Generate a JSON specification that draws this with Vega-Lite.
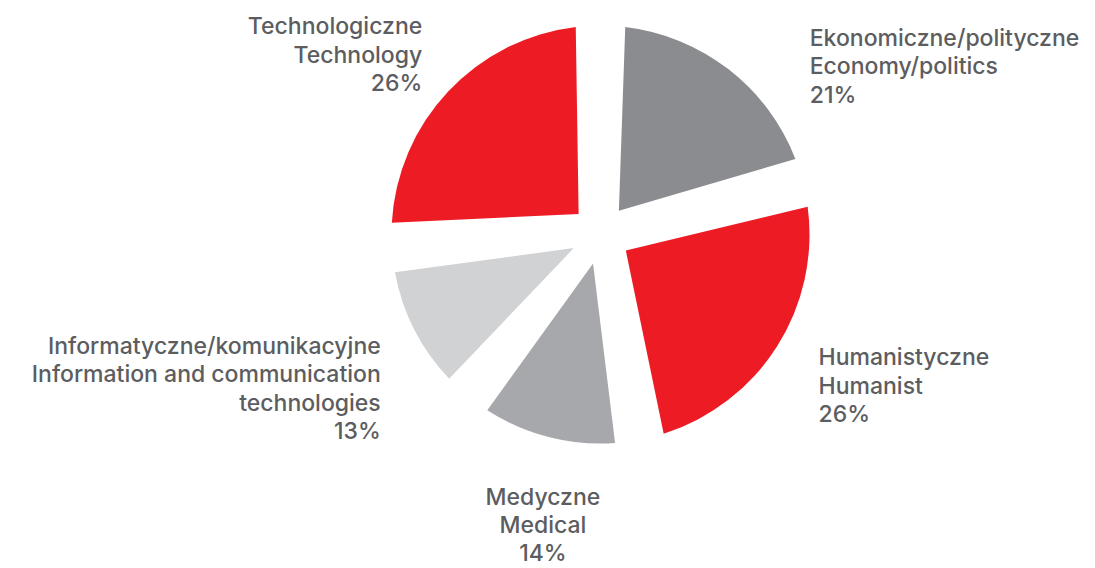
{
  "$schema": "https://vega.github.io/schema/vega-lite/v6.json",
  "width": 989,
  "height": 469,
  "autosize": "none",
  "padding": {"left": 106, "top": 0, "right": 0, "bottom": 99},
  "background": "white",
  "config": {"view": {"stroke": null}},
  "data": {
    "values": [
      {"i": 1, "key": "Ekonomiczne", "value": 21, "label": "Ekonomiczne/polityczne\nEconomy/politics\n21%"},
      {"i": 2, "key": "Humanistyczne", "value": 26, "label": "Humanistyczne\nHumanist\n26%"},
      {"i": 3, "key": "Medyczne", "value": 14, "label": "Medyczne\nMedical\n14%"},
      {"i": 4, "key": "Informatyczne", "value": 13, "label": "Informatyczne/komunikacyjne\nInformation and communication\ntechnologies\n13%"},
      {"i": 5, "key": "Technologiczne", "value": 26, "label": "Technologiczne\nTechnology\n26%"}
    ]
  },
  "encoding": {
    "theta": {"field": "value", "type": "quantitative", "stack": true},
    "order": {"field": "i", "type": "quantitative"}
  },
  "layer": [
    {
      "mark": {"type": "arc", "outerRadius": 209, "innerRadius": 30, "padAngle": 0.235},
      "encoding": {
        "color": {
          "field": "key",
          "type": "nominal",
          "scale": {
            "domain": ["Ekonomiczne", "Humanistyczne", "Medyczne", "Informatyczne", "Technologiczne"],
            "range": ["#8b8c90", "#ed1c24", "#a7a8ab", "#d1d2d4", "#ed1c24"]
          },
          "legend": null
        }
      }
    },
    {
      "mark": {"type": "text", "radius": 250, "dx": 56, "dy": 2, "align": "left", "baseline": "middle", "lineBreak": "\n", "fontSize": 23, "font": "Inter", "fontWeight": 500, "lineHeight": 28.5, "color": "#5c5d60"},
      "encoding": {
        "detail": {"field": "key", "type": "nominal"},
        "text": {"condition": {"test": "datum.key === 'Ekonomiczne'", "field": "label", "type": "nominal"}, "value": ""}
      }
    },
    {
      "mark": {"type": "text", "radius": 250, "dx": 7, "dy": -10, "align": "left", "baseline": "middle", "lineBreak": "\n", "fontSize": 23, "font": "Inter", "fontWeight": 500, "lineHeight": 28.5, "color": "#5c5d60"},
      "encoding": {
        "detail": {"field": "key", "type": "nominal"},
        "text": {"condition": {"test": "datum.key === 'Humanistyczne'", "field": "label", "type": "nominal"}, "value": ""}
      }
    },
    {
      "mark": {"type": "text", "radius": 300, "dx": 17, "dy": -27, "align": "center", "baseline": "middle", "lineBreak": "\n", "fontSize": 23, "font": "Inter", "fontWeight": 500, "lineHeight": 28, "color": "#5c5d60"},
      "encoding": {
        "detail": {"field": "key", "type": "nominal"},
        "text": {"condition": {"test": "datum.key === 'Medyczne'", "field": "label", "type": "nominal"}, "value": ""}
      }
    },
    {
      "mark": {"type": "text", "radius": 250, "dx": 3, "dy": -1, "align": "right", "baseline": "middle", "lineBreak": "\n", "fontSize": 23, "font": "Inter", "fontWeight": 500, "lineHeight": 28.5, "color": "#5c5d60"},
      "encoding": {
        "detail": {"field": "key", "type": "nominal"},
        "text": {"condition": {"test": "datum.key === 'Informatyczne'", "field": "label", "type": "nominal"}, "value": ""}
      }
    },
    {
      "mark": {"type": "text", "radius": 250, "dx": 4, "dy": -36, "align": "right", "baseline": "middle", "lineBreak": "\n", "fontSize": 23, "font": "Inter", "fontWeight": 500, "lineHeight": 28.5, "color": "#5c5d60"},
      "encoding": {
        "detail": {"field": "key", "type": "nominal"},
        "text": {"condition": {"test": "datum.key === 'Technologiczne'", "field": "label", "type": "nominal"}, "value": ""}
      }
    }
  ]
}
